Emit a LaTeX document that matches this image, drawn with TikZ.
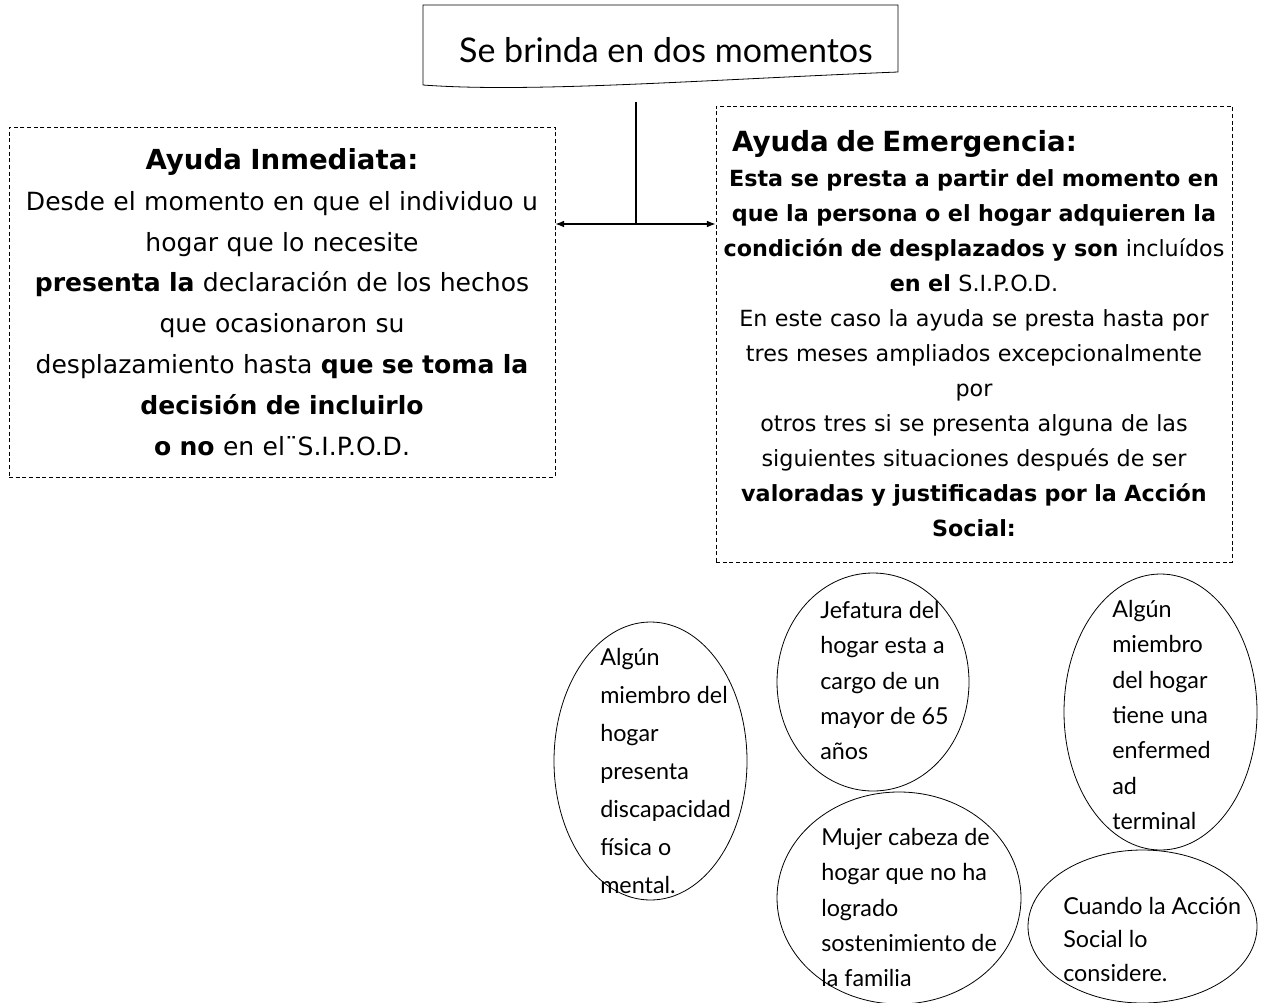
\documentclass[tikz,border=0pt]{standalone}
\usepackage{fontspec}
\setmainfont{DejaVu Sans}
\newfontfamily\handf{Lato}
\usetikzlibrary{shapes.geometric,arrows.meta}
\begin{document}
\begin{tikzpicture}[x=0.75pt,y=-0.75pt,
  dbox/.style={draw, dash pattern=on 3pt off 2pt, line width=0.6pt, inner sep=0pt, align=center},
  oval/.style={draw, ellipse, line width=0.6pt, inner sep=0pt},
  otext/.style={anchor=north west, inner sep=0pt, align=left, font=\handf\fontsize{17.5}{26.5}\selectfont},
  link/.style={line width=0.8pt}]
\useasboundingbox (0,0) rectangle (1269,1002);
% top box
\draw[line width=0.6pt] (423,5) -- (898,5) -- (898,72) .. controls (700,80) and (530,93) .. (423,85) -- cycle;
\node[inner sep=0pt, font=\handf\fontsize{25.5}{30}\selectfont] (top) at (666,50) {Se brinda en dos momentos};
% left box
\node[dbox, minimum width=409.5pt, minimum height=262.5pt, text width=405pt,
      font=\fontsize{18.8}{30.6}\selectfont] (L) at (282,302)
  {{\bfseries\fontsize{20.7}{30.6}\selectfont Ayuda Inmediata:}\\
   Desde el momento en que el individuo u\\
   hogar que lo necesite\\
   \textbf{presenta la} declaración de los hechos\\
   que ocasionaron su\\
   desplazamiento hasta \textbf{que se toma la}\\
   \textbf{decisión de incluirlo}\\
   \textbf{o no} en el¨S.I.P.O.D.};
% right box
\node[dbox, minimum width=387pt, minimum height=342pt, text width=385pt,
      font=\fontsize{16.7}{26.25}\selectfont] (R) at (974,334)
  {\makebox[385pt][l]{\hspace*{11pt}\bfseries\fontsize{20.8}{26.25}\selectfont Ayuda de Emergencia:}\\
   \textbf{Esta se presta a partir del momento en}\\
   \textbf{que la persona o el hogar adquieren la}\\
   \textbf{condición de desplazados y son} incluídos\\
   \textbf{en el} S.I.P.O.D.\\
   En este caso la ayuda se presta hasta por\\
   tres meses ampliados excepcionalmente\\
   por\\
   otros tres si se presenta alguna de las\\
   siguientes situaciones después de ser\\
   \textbf{valoradas y justificadas por la Acción}\\
   \textbf{Social:}};
% connectors
\coordinate (vt) at (636,102);
\coordinate (j) at (636,224);
\draw[link] (vt) -- (j);
\draw[link, {Latex[length=6.5pt,width=5pt]}-{Latex[length=6.5pt,width=5pt]}] (L.east |- j) -- (R.west |- j);
% ellipses
\node[oval, minimum width=144.75pt, minimum height=208.5pt] (e1) at (650.5,761) {};
\node[oval, minimum width=144pt, minimum height=163.5pt] (e2) at (873,682) {};
\node[oval, minimum width=183pt, minimum height=159pt] (e3) at (899,898) {};
\node[oval, minimum width=144.75pt, minimum height=207pt] (e4) at (1160.5,712) {};
\node[oval, minimum width=171.75pt, minimum height=114.75pt] (e5) at (1142.5,926.5) {};
\node[otext, font=\handf\fontsize{17.5}{28.5}\selectfont] (t1) at (600,648) {Algún\\miembro del\\hogar\\presenta\\discapacidad\\física o\\mental.};
\node[otext] (t2) at (820,601) {Jefatura del\\hogar esta a\\cargo de un\\mayor de 65\\años};
\node[otext] (t3) at (821,828) {Mujer cabeza de\\hogar que no ha\\logrado\\sostenimiento de\\la familia};
\node[otext] (t4) at (1112,600) {Algún\\miembro\\del hogar\\tiene una\\enfermed\\ad\\terminal};
\node[otext, font=\handf\fontsize{17.5}{25}\selectfont] (t5) at (1063,897) {Cuando la Acción\\Social lo\\considere.};
\end{tikzpicture}
\end{document}
